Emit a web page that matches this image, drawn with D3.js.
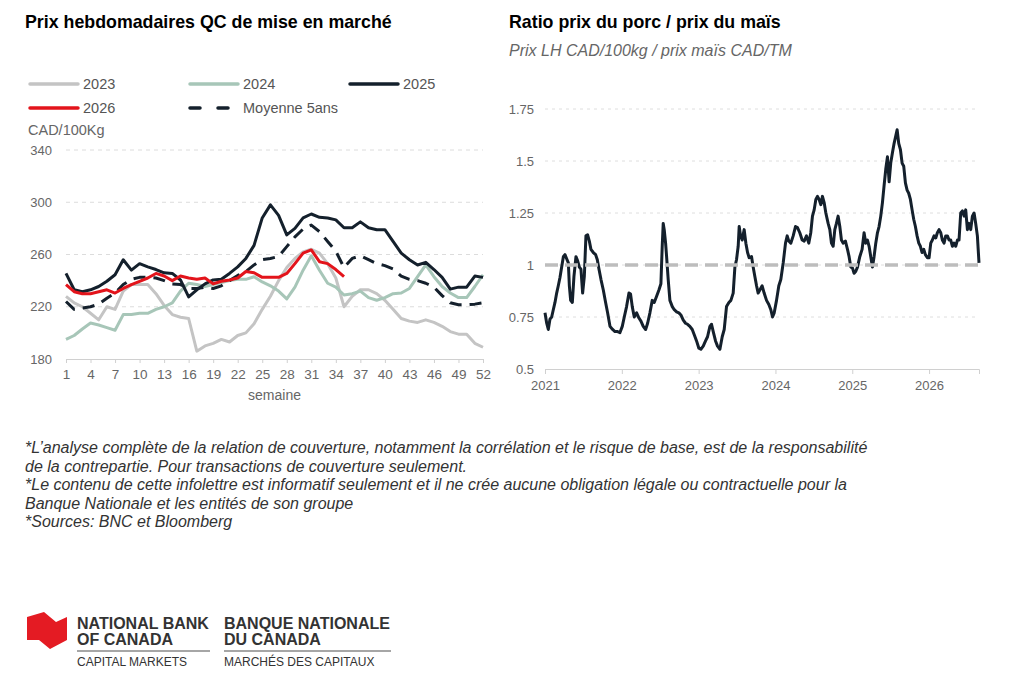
<!DOCTYPE html>
<html lang="fr">
<head>
<meta charset="UTF-8">
<title>Prix du porc QC</title>
<script src="https://d3js.org/d3.v7.min.js"></script>
<style>
  body { margin: 0; background: #fff; }
  svg text { font-family: "Liberation Sans", Arial, sans-serif; }
  .title { font-size: 17.8px; font-weight: bold; fill: #000; }
  .subtitle { font-size: 16px; font-style: italic; fill: #666; }
  .lbl { font-size: 13px; fill: #666; }
  .legend text { font-size: 14.5px; fill: #555; }
  .note { font-size: 16px; font-style: italic; fill: #333; }
  .logo-b { font-size: 16px; font-weight: bold; fill: #333; }
  .logo-r { font-size: 12px; fill: #333; }
</style>
</head>
<body>
<svg id="chart" width="1024" height="695"></svg>
<script>
// ---- left chart: weekly QC prices (CAD/100kg) ----
const weeks = d3.range(1, 53);
const weekTicks = [1, 4, 7, 10, 13, 16, 19, 22, 25, 28, 31, 34, 37, 40, 43, 46, 49, 52];
const priceTicks = [180, 220, 260, 300, 340];

const prix2023 = [228, 223, 220, 215, 210, 220, 218, 232, 237, 237, 237, 230, 221, 214, 212, 211, 186, 190, 192, 195,
  193, 198, 200, 207, 218, 228, 240, 250, 257, 262, 264, 261, 253, 242, 220, 228, 233, 233, 230, 225,
  218, 211, 209, 208, 210, 208, 205, 201, 199, 199, 192, 189];
const prix2024 = [195, 198, 203, 207.5, 206, 204, 202, 214, 214, 215, 215, 218, 220, 223, 232, 238, 237, 235.5, 237, 238.5,
  240, 241, 241, 243, 239, 236, 232, 226, 235, 248, 259, 248, 238, 235, 229, 230, 232, 227, 225, 227,
  230, 230.5, 234, 243, 252, 243, 235.5, 230.5, 227, 227, 235.5, 244.5];
const prix2025 = [245.5, 233, 231.5, 233, 235.5, 239.5, 244.5, 256, 248, 253, 250.5, 248.5, 246, 245.5, 240.5, 227.5, 233, 237.5, 240.5, 241,
  245.5, 250.5, 257, 267, 288, 298, 290, 275, 280, 288, 291, 288.5, 288, 286.5, 280.5, 280.5, 285, 280.5, 279, 279,
  270, 261, 256, 252, 254, 248.5, 242.5, 233.5, 235, 235, 243.5, 242.5];
const prix2026 = [237, 231.5, 230, 230, 231.5, 233, 230.5, 234, 237, 239.5, 242, 245.5, 243.5, 240, 243.5, 242, 241, 242, 237.5, 239.5,
  240.5, 242, 247, 246, 242.5, 242.5, 242.5, 245.5, 253, 261, 263.5, 254.5, 253, 248.5, 243];
const moyenne5 = [224, 218, 219, 220, 222, 226.5, 230.5, 237, 241, 242.5, 242.5, 242, 240, 237.5, 237, 234, 234, 235, 234, 236,
  240, 244, 247, 252, 256, 257, 258.5, 266, 273.5, 279.5, 282.5, 277.5, 270, 262.5, 250, 257, 259, 256, 253, 251.5,
  249, 243.5, 241, 240, 238, 235, 228.5, 223, 221.5, 221.5, 222, 223];

// ---- right chart: hog / corn price ratio ----
const yearTicks = [2021, 2022, 2023, 2024, 2025, 2026];
const ratioTicks = [0.5, 0.75, 1, 1.25, 1.5, 1.75];
const ratioYears = [
  2021.000, 2021.022, 2021.043, 2021.065, 2021.087, 2021.108, 2021.130, 2021.152, 2021.173, 2021.195,
  2021.217, 2021.239, 2021.260, 2021.282, 2021.304, 2021.317, 2021.334, 2021.356, 2021.377, 2021.403,
  2021.425, 2021.447, 2021.468, 2021.490, 2021.512, 2021.533, 2021.555, 2021.577, 2021.598, 2021.629,
  2021.659, 2021.681, 2021.703, 2021.729, 2021.759, 2021.789, 2021.815, 2021.846, 2021.880, 2021.911,
  2021.945, 2021.976, 2022.006, 2022.032, 2022.062, 2022.093, 2022.114, 2022.136, 2022.162, 2022.193,
  2022.223, 2022.249, 2022.279, 2022.310, 2022.336, 2022.366, 2022.396, 2022.422, 2022.453, 2022.483,
  2022.509, 2022.526, 2022.539, 2022.552, 2022.570, 2022.583, 2022.604, 2022.626, 2022.657, 2022.683,
  2022.713, 2022.743, 2022.769, 2022.800, 2022.830, 2022.856, 2022.886, 2022.917, 2022.943, 2022.973,
  2023.003, 2023.029, 2023.060, 2023.090, 2023.116, 2023.147, 2023.168, 2023.190, 2023.220, 2023.246,
  2023.277, 2023.307, 2023.333, 2023.363, 2023.394, 2023.420, 2023.450, 2023.472, 2023.493, 2023.515,
  2023.528, 2023.546, 2023.567, 2023.593, 2023.615, 2023.637, 2023.658, 2023.689, 2023.710, 2023.732,
  2023.754, 2023.775, 2023.797, 2023.827, 2023.853, 2023.884, 2023.914, 2023.940, 2023.962, 2023.984,
  2024.014, 2024.044, 2024.070, 2024.101, 2024.131, 2024.153, 2024.174, 2024.200, 2024.231, 2024.261,
  2024.287, 2024.317, 2024.348, 2024.374, 2024.404, 2024.434, 2024.460, 2024.482, 2024.504, 2024.526,
  2024.547, 2024.569, 2024.591, 2024.612, 2024.634, 2024.656, 2024.686, 2024.708, 2024.729, 2024.751,
  2024.773, 2024.794, 2024.816, 2024.838, 2024.859, 2024.881, 2024.911, 2024.938, 2024.959, 2024.981,
  2025.003, 2025.024, 2025.046, 2025.068, 2025.098, 2025.128, 2025.154, 2025.176, 2025.198, 2025.219,
  2025.241, 2025.263, 2025.284, 2025.306, 2025.328, 2025.349, 2025.371, 2025.393, 2025.414, 2025.436,
  2025.458, 2025.480, 2025.501, 2025.523, 2025.545, 2025.566, 2025.584, 2025.605, 2025.627, 2025.649,
  2025.670, 2025.692, 2025.714, 2025.735, 2025.757, 2025.779, 2025.800, 2025.822, 2025.844, 2025.866,
  2025.887, 2025.909, 2025.931, 2025.952, 2025.978, 2026.000, 2026.022, 2026.043, 2026.065, 2026.087,
  2026.108, 2026.130, 2026.152, 2026.173, 2026.195, 2026.217, 2026.239, 2026.260, 2026.282, 2026.304,
  2026.325, 2026.347, 2026.369, 2026.390, 2026.412, 2026.434, 2026.456, 2026.477, 2026.499, 2026.521,
  2026.542, 2026.564, 2026.586, 2026.607, 2026.629, 2026.650];
const ratioValues = [
  0.77, 0.72, 0.69, 0.74, 0.75, 0.785, 0.82, 0.865, 0.90, 0.94,
  0.99, 1.04, 1.05, 1.03, 1.01, 0.90, 0.83, 0.82, 0.945, 1.04,
  1.02, 0.99, 0.98, 0.865, 0.945, 1.14, 1.145, 1.115, 1.075, 1.06,
  1.05, 1.025, 0.98, 0.93, 0.88, 0.82, 0.77, 0.705, 0.69, 0.68,
  0.68, 0.675, 0.705, 0.75, 0.80, 0.865, 0.86, 0.80, 0.75, 0.77,
  0.745, 0.73, 0.705, 0.69, 0.72, 0.77, 0.83, 0.82, 0.85, 0.88,
  0.91, 1.09, 1.20, 1.17, 1.105, 1.04, 0.93, 0.83, 0.80, 0.785,
  0.775, 0.77, 0.76, 0.735, 0.72, 0.715, 0.705, 0.69, 0.665, 0.635,
  0.60, 0.595, 0.61, 0.635, 0.655, 0.705, 0.715, 0.68, 0.635, 0.61,
  0.595, 0.655, 0.69, 0.80, 0.82, 0.83, 0.865, 0.99, 1.025, 1.09,
  1.185, 1.14, 1.12, 1.17, 1.105, 1.06, 1.035, 1.04, 0.99, 0.945,
  0.90, 0.865, 0.88, 0.90, 0.865, 0.83, 0.81, 0.785, 0.75, 0.77,
  0.83, 0.90, 0.93, 1.01, 1.105, 1.14, 1.115, 1.105, 1.14, 1.185,
  1.18, 1.155, 1.12, 1.115, 1.14, 1.105, 1.155, 1.235, 1.265, 1.315,
  1.33, 1.315, 1.29, 1.33, 1.30, 1.25, 1.20, 1.17, 1.105, 1.09,
  1.17, 1.20, 1.235, 1.185, 1.12, 1.105, 1.115, 1.075, 1.04, 0.99,
  0.985, 0.96, 0.97, 0.99, 1.04, 1.075, 1.155, 1.105, 1.12, 1.09,
  1.04, 0.99, 1.04, 1.105, 1.155, 1.185, 1.235, 1.30, 1.38, 1.46,
  1.52, 1.40, 1.49, 1.54, 1.585, 1.62, 1.65, 1.585, 1.555, 1.49,
  1.475, 1.395, 1.36, 1.345, 1.315, 1.265, 1.22, 1.185, 1.14, 1.105,
  1.09, 1.06, 1.075, 1.05, 1.035, 1.035, 1.105, 1.12, 1.14, 1.13,
  1.155, 1.17, 1.155, 1.12, 1.105, 1.14, 1.14, 1.12, 1.12, 1.09,
  1.105, 1.09, 1.12, 1.12, 1.25, 1.26, 1.235, 1.265, 1.17, 1.20,
  1.17, 1.235, 1.25, 1.20, 1.14, 1.01];
const ratioRef = 1;

const notes = [
  "*L\u2019analyse complète de la relation de couverture, notamment la corrélation et le risque de base, est de la responsabilité",
  "de la contrepartie. Pour transactions de couverture seulement.",
  "*Le contenu de cette infolettre est informatif seulement et il ne crée aucune obligation légale ou contractuelle pour la",
  "Banque Nationale et les entités de son groupe",
  "*Sources: BNC et Bloomberg"
];

const navy = "#14202c";
const svg = d3.select("#chart");

// ================= left chart =================
const x = d3.scaleLinear().domain([1, 52]).range([66, 483]);
const y = d3.scaleLinear().domain([180, 340]).range([359, 150]);

svg.append("text").attr("class", "title").attr("x", 25).attr("y", 28)
  .text("Prix hebdomadaires QC de mise en marché");

const left = svg.append("g");

left.append("g").selectAll("line").data(priceTicks.slice(1)).join("line")
  .attr("x1", x(1)).attr("x2", x(52))
  .attr("y1", d => y(d)).attr("y2", d => y(d))
  .attr("stroke", "#dcdcdc").attr("stroke-dasharray", "4,4");

left.append("g").selectAll("text").data(priceTicks).join("text")
  .attr("class", "lbl").attr("x", 52).attr("y", d => y(d)).attr("dy", "0.35em")
  .attr("text-anchor", "end").text(d => d);

const xAxis = left.append("g").attr("transform", `translate(0,${y(180)})`)
  .call(d3.axisBottom(x).tickValues(weekTicks).tickSize(4).tickPadding(6).tickFormat(d3.format("d")));
xAxis.select(".domain").attr("stroke", "#d0d0d0");
xAxis.selectAll(".tick line").attr("stroke", "#d0d0d0");
xAxis.selectAll(".tick text").attr("class", "lbl").style("font-size", "13.5px").attr("fill", "#666");

left.append("text").attr("class", "lbl").attr("x", (x(1) + x(52)) / 2).attr("y", 400)
  .attr("text-anchor", "middle").style("font-size", "14px").text("semaine");

left.append("text").attr("class", "lbl").attr("x", 28).attr("y", 135)
  .style("font-size", "14.5px").text("CAD/100Kg");

const series = [
  { name: "2023", values: prix2023, color: "#c4c4c4", dash: null },
  { name: "2024", values: prix2024, color: "#a7c6b8", dash: null },
  { name: "Moyenne 5ans", values: moyenne5, color: navy, dash: "12,8" },
  { name: "2025", values: prix2025, color: navy, dash: null },
  { name: "2026", values: prix2026, color: "#e3141b", dash: null }
];

const line = d3.line().x((d, i) => x(weeks[i])).y(d => y(d));

left.append("g").selectAll("path").data(series).join("path")
  .attr("d", d => line(d.values))
  .attr("fill", "none")
  .attr("stroke", d => d.color)
  .attr("stroke-width", 3)
  .attr("stroke-linejoin", "round")
  .attr("stroke-dasharray", d => d.dash);

// legend
const legendItems = [
  { s: series[0], x: 30, y: 84 }, { s: series[1], x: 190, y: 84 }, { s: series[3], x: 350, y: 84 },
  { s: series[4], x: 30, y: 108 }, { s: series[2], x: 190, y: 108 }
];
const lg = left.append("g").attr("class", "legend").selectAll("g").data(legendItems).join("g")
  .attr("transform", d => `translate(${d.x},${d.y})`);
lg.append("line").attr("x1", 0).attr("x2", 48)
  .attr("stroke", d => d.s.color).attr("stroke-width", 3.5).attr("stroke-linecap", "round")
  .attr("stroke-dasharray", d => d.s.dash ? "10,18" : null);
lg.append("text").attr("x", 53).attr("dy", "0.35em").text(d => d.s.name);

// ================= right chart =================
const xr = d3.scaleLinear().domain([2021, 2026.65]).range([545, 979]);
const yr = d3.scaleLinear().domain([0.5, 1.75]).range([369, 109]);

svg.append("text").attr("class", "title").attr("x", 509).attr("y", 28)
  .text("Ratio prix du porc / prix du maïs");
svg.append("text").attr("class", "subtitle").attr("x", 509).attr("y", 56)
  .text("Prix LH CAD/100kg / prix maïs CAD/TM");

const right = svg.append("g");

right.append("g").selectAll("line").data(ratioTicks.slice(1)).join("line")
  .attr("x1", xr.range()[0]).attr("x2", xr.range()[1])
  .attr("y1", d => yr(d)).attr("y2", d => yr(d))
  .attr("stroke", "#dedede").attr("stroke-dasharray", "3,4");

right.append("g").selectAll("text").data(ratioTicks).join("text")
  .attr("class", "lbl").attr("x", 534).attr("y", d => yr(d)).attr("dy", "0.35em")
  .attr("text-anchor", "end").text(d => d);

const xrAxis = right.append("g").attr("transform", `translate(0,${yr(0.5)})`)
  .call(d3.axisBottom(xr).tickValues(yearTicks).tickSize(5).tickPadding(7).tickFormat(d3.format("d")));
xrAxis.select(".domain").attr("stroke", "#d0d0d0");
xrAxis.selectAll(".tick line").attr("stroke", "#d0d0d0");
xrAxis.selectAll(".tick text").attr("class", "lbl").style("font-size", "13px").attr("fill", "#666");

const rline = d3.line().x((d, i) => xr(ratioYears[i])).y(d => yr(d));
right.append("path").attr("d", rline(ratioValues))
  .attr("fill", "none").attr("stroke", navy).attr("stroke-width", 3).attr("stroke-linejoin", "round");

right.append("line")
  .attr("x1", xr.range()[0]).attr("x2", xr.range()[1])
  .attr("y1", yr(ratioRef)).attr("y2", yr(ratioRef))
  .attr("stroke", "#bdbdbd").attr("stroke-width", 3.5).attr("stroke-dasharray", "13,7");

// ================= notes =================
svg.append("g").selectAll("text").data(notes).join("text")
  .attr("class", "note").attr("x", 25).attr("y", (d, i) => 453 + i * 18.6).text(d => d);

// ================= logo =================
const logo = svg.append("g");
logo.append("path")
  .attr("d", "M27,617 L44,612 L56,622 L67,617 L67,640 L50,649 L39,640 L27,640 Z")
  .attr("fill", "#e41b23");
logo.append("text").attr("class", "logo-b").attr("x", 77).attr("y", 629).text("NATIONAL BANK");
logo.append("text").attr("class", "logo-b").attr("x", 77).attr("y", 645).text("OF CANADA");
logo.append("text").attr("class", "logo-r").attr("x", 77).attr("y", 666).text("CAPITAL MARKETS");
logo.append("text").attr("class", "logo-b").attr("x", 224).attr("y", 629).text("BANQUE NATIONALE");
logo.append("text").attr("class", "logo-b").attr("x", 224).attr("y", 645).text("DU CANADA");
logo.append("text").attr("class", "logo-r").attr("x", 224).attr("y", 666).text("MARCHÉS DES CAPITAUX");
logo.append("line").attr("x1", 77).attr("x2", 210).attr("y1", 651).attr("y2", 651).attr("stroke", "#888").attr("stroke-width", 1.3);
logo.append("line").attr("x1", 224).attr("x2", 391).attr("y1", 651).attr("y2", 651).attr("stroke", "#888").attr("stroke-width", 1.3);
</script>
</body>
</html>
